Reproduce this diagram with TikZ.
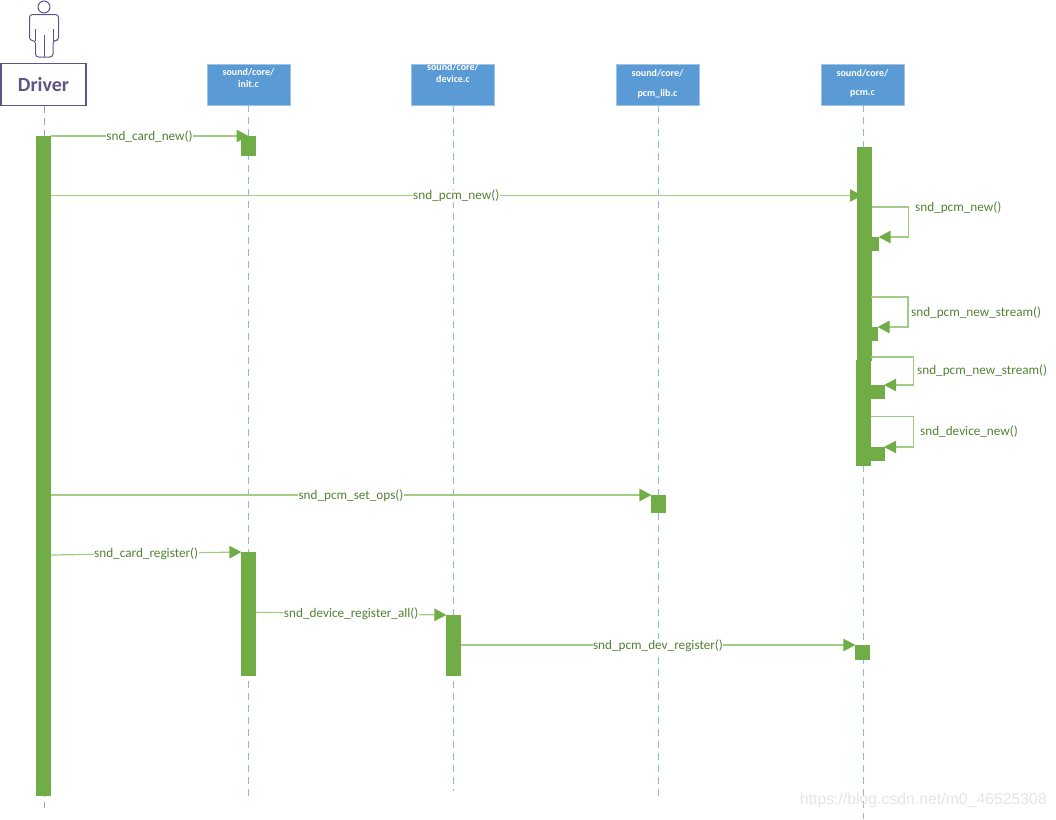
\documentclass[tikz,border=0pt]{standalone}
\usepackage{fontspec}
\setmainfont{Carlito}
\newfontfamily\markfont{Liberation Sans}
\usetikzlibrary{arrows.meta}
\definecolor{hdrblue}{HTML}{5B9BD5}
\definecolor{lineblue}{HTML}{8DB9E6}
\definecolor{actgreen}{HTML}{70AD47}
\definecolor{callgreen}{HTML}{A0CC84}
\definecolor{txtgreen}{HTML}{548235}
\definecolor{drvpurple}{HTML}{5F5487}
\tikzset{
    hdr/.style={fill=hdrblue,draw=hdrblue!60,line width=0.5pt,minimum width=83pt,minimum height=41.5pt,inner sep=0pt,outer sep=0pt},
    hdrtxt/.style={text=white,font=\fontsize{10}{12}\selectfont\bfseries,inner sep=0pt},
    life/.style={draw=lineblue,line width=1pt,dash pattern=on 7pt off 5pt},
    act/.style={fill=actgreen,draw=actgreen,line width=0.3pt,minimum width=14.2pt,inner sep=0pt,outer sep=0pt,anchor=north},
    call/.style={draw=callgreen,line width=1.2pt,-{Triangle[length=12pt,width=12.5pt,color=actgreen]}},
    lab/.style={fill=white,text=txtgreen,font=\fontsize{13.2}{15}\selectfont,inner sep=0.5pt},
    selflab/.style={text=txtgreen,font=\fontsize{13.2}{15}\selectfont,inner sep=0pt,anchor=west},
}
\begin{document}
\begin{tikzpicture}[x=1pt,y=-1pt]
    \useasboundingbox (0,0) rectangle (1056,819);
    \draw[drvpurple,line width=1pt] (44,7) circle (6);
    \draw[drvpurple,line width=1pt,rounded corners=3pt] (29.5,40.5) -- (29.5,14.5) -- (58.5,14.5) -- (58.5,40.5) -- (53,40.5) -- (53,57) -- (35.5,57) -- (35.5,40.5) -- cycle;
    \draw[drvpurple,line width=1pt] (35.5,29) -- (35.5,40.5) (53,29) -- (53,40.5) (44,35) -- (44,57);
    \node[draw=drvpurple,line width=1.2pt,fill=white,minimum width=85pt,minimum height=42.5pt,inner sep=0pt,outer sep=0pt,text=drvpurple,font=\fontsize{20}{22}\selectfont\bfseries] (Hd) at (43.5,84.5) {Driver};
    \node[hdr] (Ha) at (248.5,84.5) {};
    \node[hdr] (Hb) at (453,84.5) {};
    \node[hdr] (Hc) at (657.5,84.5) {};
    \node[hdr] (He) at (862.5,84.5) {};
    \node[hdrtxt] at (248.5,72.5) {sound/core/};
    \node[hdrtxt] at (248.5,84.5) {init.c};
    \node[hdrtxt] at (453,67) {sound/core/};
    \node[hdrtxt] at (453,79) {device.c};
    \node[hdrtxt] at (657.5,73) {sound/core/};
    \node[hdrtxt] at (657.5,94) {pcm\_lib.c};
    \node[hdrtxt] at (862.5,73) {sound/core/};
    \node[hdrtxt] at (862.5,94) {pcm.c};
    \coordinate (Ed) at (44,808);
    \coordinate (Ea) at (248,800);
    \coordinate (Eb) at (453,791);
    \coordinate (Ec) at (658,800);
    \coordinate (Ee) at (863,819);
    \draw[life,draw=drvpurple!55] (Hd.south -| Ed) -- (Ed);
    \draw[life] (Ha.south -| Ea) -- (Ea);
    \draw[life] (Hb.south -| Eb) -- (Eb);
    \draw[life] (Hc.south -| Ec) -- (Ec);
    \draw[life] (He.south -| Ee) -- (Ee);
    \node[act,minimum height=659pt] (Ad) at (43.5,136) {};
    \node[act,minimum height=19pt] (Aa) at (248.5,136) {};
    \node[act,minimum height=123pt] (Ab) at (248.5,552) {};
    \node[act,minimum height=60pt] (Ac) at (453.5,615) {};
    \node[act,minimum height=17pt] (Ag) at (658.5,495) {};
    \node[act,minimum height=103pt] (Pa) at (864.5,147) {};
    \node[act,minimum height=110pt] (Pb) at (863.8,250) {};
    \node[act,minimum height=105pt] (Pc) at (863,360) {};
    \node[act,minimum height=13pt] (Sa) at (871.5,237) {};
    \node[act,minimum height=13pt] (Sb) at (870.5,327) {};
    \node[act,minimum height=13.5pt] (Sc) at (877,385) {};
    \node[act,minimum height=13.5pt] (Sd) at (877,447) {};
    \node[act,minimum height=14pt] (Af) at (862.5,645) {};
    \coordinate (Qa) at (862,195.5);
    \coordinate (Ua) at (871.5,207);
    \coordinate (Va) at (908.5,237);
    \coordinate (Ub) at (871,297);
    \coordinate (Vb) at (908,327);
    \coordinate (Uc) at (870.5,357);
    \coordinate (Vc) at (913.5,385);
    \coordinate (Ud) at (870.5,416.5);
    \coordinate (Vd) at (913.5,447);
    \coordinate (Ra) at (51,555);
    \coordinate (Rb) at (256,612.3);
    \draw[call] (Ad.east |- Aa.north) -- node[lab,yshift=-0.5pt] {snd\_card\_new()} (Aa.north);
    \draw[call] (Ad.east |- Qa) -- node[lab,yshift=-0.5pt] {snd\_pcm\_new()} (Qa);
    \draw[call] (Ad.east |- Ag.north west) -- node[lab,yshift=-0.5pt] {snd\_pcm\_set\_ops()} (Ag.north west);
    \draw[call] (Ra) -- node[lab,yshift=-0.5pt] {snd\_card\_register()} (Ab.north west);
    \draw[call] (Rb) -- node[lab,yshift=-0.5pt] {snd\_device\_register\_all()} (Ac.north west);
    \draw[call] (Ac.east |- Af.north west) -- node[lab,yshift=-0.5pt] {snd\_pcm\_dev\_register()} (Af.north west);
    \draw[call] (Ua) -| (Va) -- (Sa.north east);
    \draw[call] (Ub) -| (Vb) -- (Sb.north east);
    \draw[call] (Uc) -| (Vc) -- (Sc.north east);
    \draw[call] (Ud) -| (Vd) -- (Sd.north east);
    \node[selflab] (La) at (915,208) {snd\_pcm\_new()};
    \node[selflab] (Lb) at (911,312.5) {snd\_pcm\_new\_stream()};
    \node[selflab] (Lc) at (917,370.5) {snd\_pcm\_new\_stream()};
    \node[selflab] (Ld) at (920,431.5) {snd\_device\_new()};
    \node[text=black!10,font=\fontsize{15.8}{18}\selectfont\markfont,inner sep=0pt,anchor=east] (Wm) at (1047,800.5) {https://blog.csdn.net/m0\_46525308};
\end{tikzpicture}
\end{document}
